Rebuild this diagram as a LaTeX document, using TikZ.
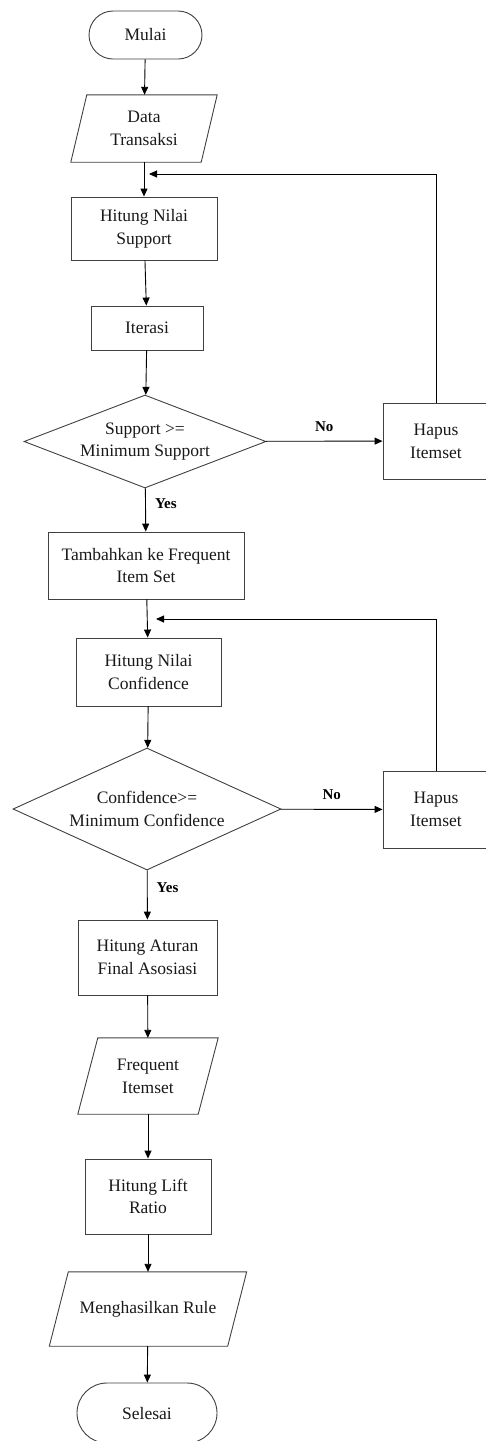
\documentclass[tikz,border=0pt]{standalone}
\usepackage{fontspec}
\setmainfont{Liberation Serif}
\usetikzlibrary{arrows.meta,shapes.geometric,shapes.misc,calc}
\tikzset{
  base/.style={font=\fontsize{17.5}{22.7}\selectfont, align=center, inner sep=0pt, text=black!90},
  proc/.style={base, draw=black!75, line width=0.9pt, rectangle},
  term/.style={base, draw=black!75, line width=0.9pt, rounded rectangle},
  io/.style={base},
  dec/.style={base, draw=black!75, line width=0.9pt, diamond},
  lab/.style={font=\bfseries\fontsize{15}{18}\selectfont, inner sep=0pt},
  arr/.style={draw=black, line width=0.9pt, -{Triangle[length=8pt,width=7pt]}},
  paraline/.style={draw=black!75, line width=0.9pt},
}
\begin{document}
\begin{tikzpicture}[x=1pt,y=-1pt]
\useasboundingbox (0,0) rectangle (486,1441);
\clip (0,0) rectangle (486,1441);
% nodes
\node[term, minimum width=113, minimum height=48] (mulai) at (145.5,35) {Mulai};
\node[io, minimum width=130, minimum height=67] (data) at (144,128.5) {Data\\Transaksi};
\draw[paraline] ([xshift=8]data.north west) -- ([xshift=8]data.north east) -- ([xshift=-8]data.south east) -- ([xshift=-8]data.south west) -- cycle;
\node[proc, minimum width=146, minimum height=63] (sup) at (144,228.5) {Hitung Nilai\\Support};
\node[proc, minimum width=112, minimum height=44] (iter) at (147,328) {Iterasi};
\node[dec, minimum width=242, minimum height=93, aspect=2.6] (dec1) at (145,441.5) {Support >=\\Minimum Support};
\node[proc, minimum width=106, minimum height=76] (hap1) at (436,441) {Hapus\\Itemset};
\node[proc, minimum width=196, minimum height=67] (tam) at (146,565.5) {Tambahkan ke Frequent\\Item Set};
\node[proc, minimum width=145, minimum height=68] (conf) at (148.5,672) {Hitung Nilai\\Confidence};
\node[dec, minimum width=268, minimum height=122, aspect=2.2] (dec2) at (147,809) {Confidence>=\\Minimum Confidence};
\node[proc, minimum width=106, minimum height=77] (hap2) at (436,809.5) {Hapus\\Itemset};
\node[proc, minimum width=139, minimum height=75] (atur) at (147.5,957.5) {Hitung Aturan\\Final Asosiasi};
\node[io, minimum width=120, minimum height=76] (freq) at (148,1076) {Frequent\\Itemset};
\draw[paraline] ([xshift=10]freq.north west) -- ([xshift=10]freq.north east) -- ([xshift=-10]freq.south east) -- ([xshift=-10]freq.south west) -- cycle;
\node[proc, minimum width=126, minimum height=75] (lift) at (148,1196.5) {Hitung Lift\\Ratio};
\node[io, minimum width=178, minimum height=74] (rule) at (148,1309) {Menghasilkan Rule};
\draw[paraline] ([xshift=9.5]rule.north west) -- ([xshift=9.5]rule.north east) -- ([xshift=-9.5]rule.south east) -- ([xshift=-9.5]rule.south west) -- cycle;
\node[term, minimum width=140, minimum height=60] (sel) at (147,1413) {Selesai};
% loop coordinates
\coordinate (loop1) at (149,174);
\coordinate (loop2) at (156,619);
% connectors
\draw[arr] (mulai) -- (data);
\draw[arr] (data) -- (sup);
\draw[arr] (sup) -- (iter);
\draw[arr] (iter) -- (dec1);
\draw[arr] (dec1) -- node[lab, above=9pt] {No} (hap1);
\draw[arr] (hap1.north) |- (loop1);
\draw[arr] (dec1) -- node[lab, right=9pt, yshift=6pt] {Yes} (tam);
\draw[arr] (tam) -- (conf);
\draw[arr] (conf) -- (dec2);
\draw[arr] (dec2) -- node[lab, above=9pt] {No} (hap2);
\draw[arr] (hap2.north) |- (loop2);
\draw[arr] (dec2) -- node[lab, right=9pt, yshift=7pt] {Yes} (atur);
\draw[arr] (atur) -- (freq);
\draw[arr] (freq) -- (lift);
\draw[arr] (lift) -- (rule);
\draw[arr] (rule) -- (sel);
\end{tikzpicture}
\end{document}
